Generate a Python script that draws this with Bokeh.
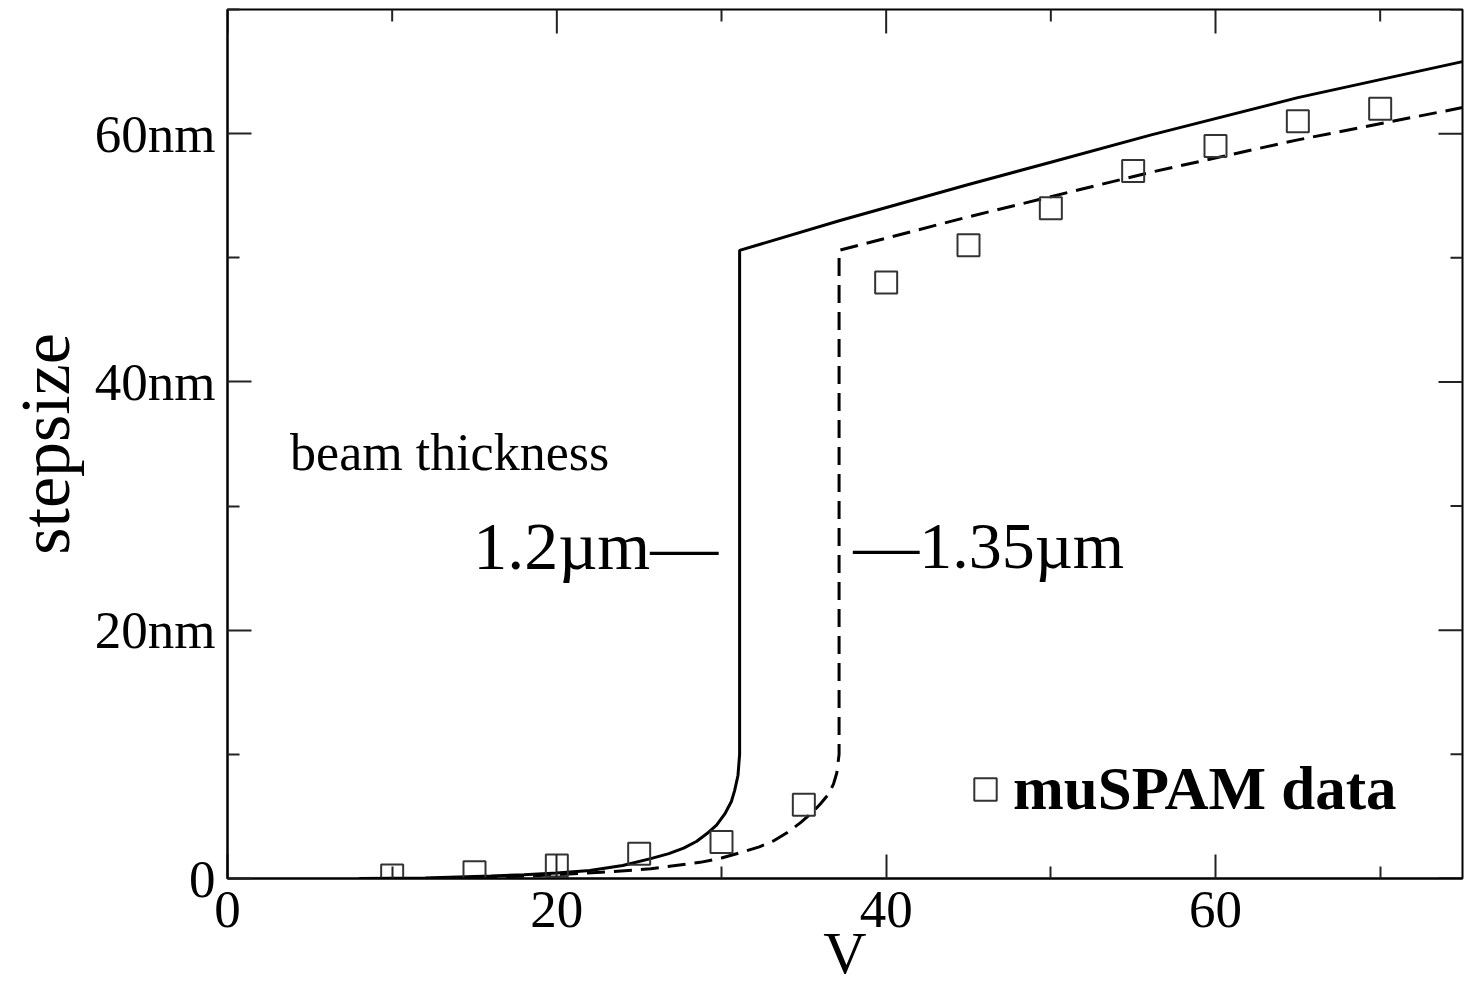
import math
from bokeh.plotting import figure
from bokeh.models import (Range1d, LinearAxis, FixedTicker, Label, Legend, LegendItem,
                          ColumnDataSource)
from bokeh.embed import file_html
from bokeh.resources import INLINE

# ---------------- data ----------------
solid_x = [8, 12, 16, 18, 20, 22, 24, 25.7, 26.8, 27.7, 28.5, 29.1, 29.7, 30.2, 30.6,
           30.8, 31.0, 31.1, 31.1, 37.2, 45, 50, 56.1, 65, 75]
solid_y = [0, 0.05, 0.2, 0.3, 0.45, 0.65, 1.05, 1.6, 2.0, 2.45, 3.0, 3.6, 4.3, 5.2, 6.2,
           7.1, 8.3, 10.0, 50.6, 53.0, 55.9, 57.7, 59.9, 62.9, 65.8]

dash_x = [12, 16, 20, 22.7, 25.7, 28.7, 30.0, 31.2, 32.3, 33.2, 34.0, 34.8, 35.5, 36.0,
          36.5, 36.8, 37.0, 37.14, 37.14, 45, 56.1, 65, 75]
dash_y = [0, 0.1, 0.3, 0.5, 0.78, 1.3, 1.65, 2.1, 2.55, 3.06, 3.7, 4.5, 5.3, 6.0,
          6.8, 7.6, 8.5, 10.0, 50.6, 53.3, 56.9, 59.5, 62.1]

data_v = [10, 15, 20, 25, 30, 35, 40, 45, 50, 55, 60, 65, 70]
data_step = [0.25, 0.5, 1.05, 2.0, 2.95, 5.95, 48, 51, 54, 57, 59, 61, 62]

x_ticks = [0, 20, 40, 60]
x_minor = [10, 30, 50, 70]
y_ticks = [0, 20, 40, 60]
y_minor = [10, 30, 50, 70]
y_tick_labels = {0: "0", 20: "20nm", 40: "40nm", 60: "60nm"}

X_MIN, X_MAX = 0, 75
Y_MIN, Y_MAX = 0, 70

FONT = "Liberation Serif"

p = figure(width=1466, height=988, output_backend="svg", toolbar_location=None,
           x_range=Range1d(X_MIN, X_MAX), y_range=Range1d(Y_MIN, Y_MAX),
           x_axis_location=None, y_axis_location=None,
           min_border_left=227, min_border_right=4, min_border_top=9, min_border_bottom=110)
p.grid.visible = False
p.outline_line_color = "black"
p.outline_line_width = 2
p.background_fill_color = "white"
p.border_fill_color = "white"


def style_axis(ax):
    ax.axis_line_color = "black"
    ax.axis_line_width = 2
    ax.major_tick_in = 24
    ax.major_tick_out = 0
    ax.minor_tick_in = 12
    ax.minor_tick_out = 0
    ax.major_tick_line_color = "#222222"
    ax.major_tick_line_width = 2
    ax.minor_tick_line_color = "#222222"
    ax.minor_tick_line_width = 2
    ax.major_label_text_font = FONT
    ax.axis_label_text_font = FONT
    ax.axis_label_text_font_style = "normal"
    ax.axis_label_text_color = "black"
    ax.major_label_text_color = "black"


xb = LinearAxis()
style_axis(xb)
xb.ticker = FixedTicker(ticks=x_ticks, minor_ticks=x_minor)
xb.major_label_text_font_size = "53px"
xb.major_label_standoff = 13
xb.axis_label = "V"
xb.axis_label_text_font_size = "60px"
xb.axis_label_standoff = -10
p.add_layout(xb, "below")

yl = LinearAxis()
style_axis(yl)
yl.ticker = FixedTicker(ticks=y_ticks, minor_ticks=y_minor)
yl.major_label_overrides = y_tick_labels
yl.major_label_text_font_size = "53px"
yl.major_label_standoff = 12
yl.axis_label = "stepsize"
yl.axis_label_text_font_size = "70px"
yl.axis_label_standoff = 8
p.add_layout(yl, "left")

# mirrored ticks on top and right edges
tick_kw = dict(line_color="#222222", line_width=2, length_units="screen")
p.ray(x=x_ticks, y=[Y_MAX] * len(x_ticks), length=24, angle=-math.pi / 2, **tick_kw)
p.ray(x=x_minor, y=[Y_MAX] * len(x_minor), length=12, angle=-math.pi / 2, **tick_kw)
p.ray(x=[X_MAX] * len(y_ticks), y=y_ticks, length=24, angle=math.pi, **tick_kw)
p.ray(x=[X_MAX] * len(y_minor), y=y_minor, length=12, angle=math.pi, **tick_kw)

# ---------------- curves ----------------
p.line(solid_x, solid_y, line_color="black", line_width=3)
p.line(dash_x, dash_y, line_color="black", line_width=3, line_dash="18 9")

src = ColumnDataSource(dict(x=data_v, y=data_step))
sq = p.scatter("x", "y", source=src, marker="square", size=22,
               fill_color=None, line_color="#333333", line_width=2)

# ---------------- annotations ----------------
p.add_layout(Label(x=3.8, y=34.3, text="beam thickness", text_font=FONT,
                   text_font_size="52px", text_color="black", text_baseline="alphabetic"))
p.add_layout(Label(x=29.8, y=26.8, text="1.2\u00b5m\u2014", text_font=FONT,
                   text_font_size="68px", text_color="black", text_align="right",
                   text_baseline="alphabetic"))
p.add_layout(Label(x=38.0, y=26.8, text="\u20141.35\u00b5m", text_font=FONT,
                   text_font_size="66px", text_color="black", text_align="left",
                   text_baseline="alphabetic"))

legend = Legend(items=[LegendItem(label="muSPAM data", renderers=[sq])],
                location=(730, 54), glyph_width=56, glyph_height=70,
                label_standoff=0, padding=0, margin=0, spacing=0,
                border_line_alpha=0, background_fill_alpha=0,
                label_text_font=FONT, label_text_font_size="61px",
                label_text_font_style="bold", label_text_color="black")
p.add_layout(legend)

open("out.html", "w").write(file_html(p, INLINE))
